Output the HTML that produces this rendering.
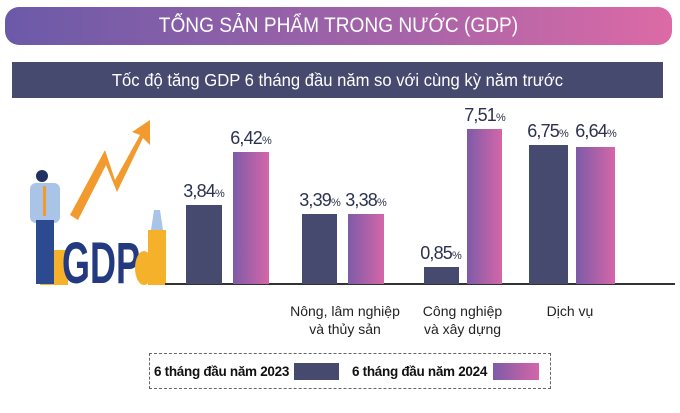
<!DOCTYPE html>
<html><head><meta charset="utf-8"><style>
body{margin:0;width:680px;height:413px;background:#fff;font-family:"Liberation Sans",sans-serif;overflow:hidden;position:relative}
.a{position:absolute}
.t{position:absolute;left:5px;top:7px;width:667px;height:38px;border-radius:14px;background:linear-gradient(90deg,#6b5aa8,#a764a8 60%,#dc6aa6);color:#fff;font-size:21px;text-align:center;line-height:38px}
.t span,.s span{display:inline-block;transform:scaleX(0.91)}
.s{position:absolute;left:12px;top:62px;width:651px;height:36px;background:#454a6e;color:#fff;font-size:17.5px;text-align:center;line-height:36px}
.s span{transform:scaleX(0.95)}
.d{background:#454a6e}
.p{background:linear-gradient(90deg,#7d5ba8,#d566a8)}
.v{position:absolute;font-size:18px;color:#2c3150;text-align:center;width:70px;letter-spacing:-0.8px}
.v small{font-size:11px;letter-spacing:0}
.c{position:absolute;font-size:14px;color:#222;text-align:center;line-height:18px}
</style></head><body>
<div class="t"><span>TỔNG SẢN PHẨM TRONG NƯỚC (GDP)</span></div>
<div class="s"><span>Tốc độ tăng GDP 6 tháng đầu năm so với cùng kỳ năm trước</span></div>
<svg class="a" style="left:0;top:110px" width="170" height="180">
<polygon points="70,105 105,40 115,70 140,25 132,22 150,10 150,35 143,28 117,82 106,55 78,110" fill="#f39a2e"/>
<rect x="40" y="140" width="28" height="35" fill="#f5b12a"/>
<circle cx="42" cy="66" r="6" fill="#203060"/>
<rect x="30" y="73" width="30" height="40" rx="6" fill="#a9c4e6"/>
<rect x="43" y="76" width="3" height="30" fill="#f39a2e"/>
<rect x="36" y="110" width="18" height="64" fill="#2c4a90"/>
<rect x="148" y="120" width="18" height="55" fill="#f5b12a"/>
<path d="M151,120 L163,120 L160,100 L154,100Z" fill="#a9c4e6"/>
<text x="62" y="173" font-family="Liberation Sans" font-weight="bold" font-size="58" fill="#243a80" textLength="78" lengthAdjust="spacingAndGlyphs">GDP</text>
<ellipse cx="144" cy="158" rx="9" ry="17" fill="#f5b12a"/>
</svg>
<div class="a" style="left:165px;top:283px;width:510px;height:2px;background:#333"></div>
<div class="a d" style="left:186px;top:205px;width:36px;height:79px"></div>
<div class="a p" style="left:233px;top:152px;width:36px;height:132px"></div>
<div class="a d" style="left:302px;top:214px;width:35px;height:70px"></div>
<div class="a p" style="left:348px;top:214px;width:36px;height:70px"></div>
<div class="a d" style="left:424px;top:267px;width:35px;height:17px"></div>
<div class="a p" style="left:467px;top:129px;width:35px;height:155px"></div>
<div class="a d" style="left:529px;top:145px;width:39px;height:139px"></div>
<div class="a p" style="left:576px;top:147px;width:39px;height:137px"></div>
<div class="v" style="left:169px;top:181px">3,84<small>%</small></div>
<div class="v" style="left:216px;top:128px">6,42<small>%</small></div>
<div class="v" style="left:285px;top:190px">3,39<small>%</small></div>
<div class="v" style="left:331px;top:190px">3,38<small>%</small></div>
<div class="v" style="left:406px;top:243px">0,85<small>%</small></div>
<div class="v" style="left:450px;top:105px">7,51<small>%</small></div>
<div class="v" style="left:513px;top:121px">6,75<small>%</small></div>
<div class="v" style="left:561px;top:121px">6,64<small>%</small></div>
<div class="c" style="left:280px;top:302px;width:130px">Nông, lâm nghiệp<br>và thủy sản</div>
<div class="c" style="left:400px;top:302px;width:125px">Công nghiệp<br>và xây dựng</div>
<div class="c" style="left:520px;top:302px;width:100px">Dịch vụ</div>
<div class="a" style="left:149px;top:353px;width:400px;height:34px;border:1px dashed #666"></div>
<div class="a" style="left:154px;top:364px;font-size:13.5px;font-weight:bold;color:#111;letter-spacing:-0.3px">6 tháng đầu năm 2023</div>
<div class="a d" style="left:294px;top:363px;width:45px;height:17px"></div>
<div class="a" style="left:352px;top:364px;font-size:13.5px;font-weight:bold;color:#111;letter-spacing:-0.3px">6 tháng đầu năm 2024</div>
<div class="a p" style="left:493px;top:363px;width:46px;height:17px"></div>
</body></html>
